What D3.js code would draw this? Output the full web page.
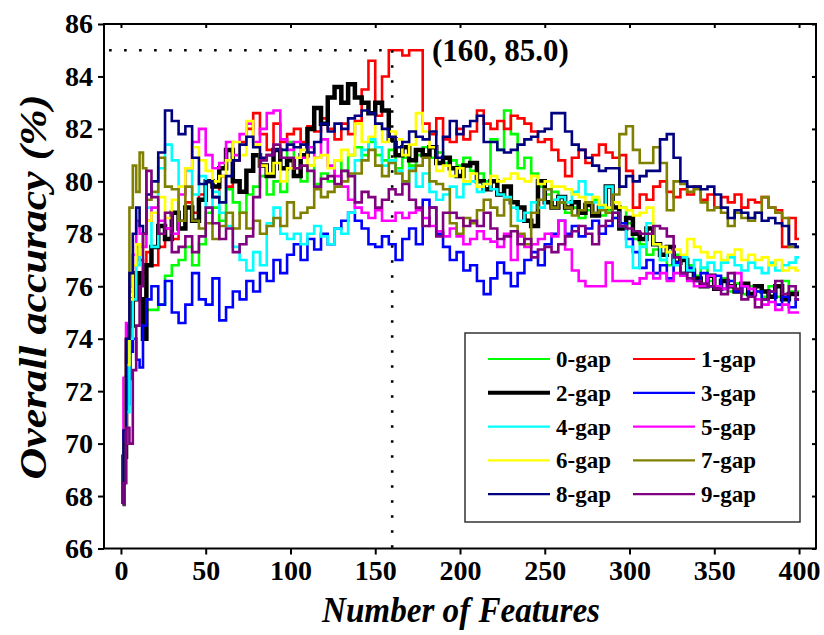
<!DOCTYPE html>
<html>
<head>
<meta charset="utf-8">
<script src="https://cdn.jsdelivr.net/npm/d3@7"></script>
<style>
body { margin: 0; background: #fff; }
svg text { font-family: "Liberation Serif", "Times New Roman", serif; font-weight: bold; fill: #000; }
</style>
</head>
<body>
<div id="chart"></div>
<script>
// number of features at which each accuracy value was read
var features = [1, 2, 4, 6, 8, 10, 12, 14, 16,
    20, 24, 28, 32, 36, 40, 44, 48, 52, 56,
    60, 64, 68, 72, 76, 80, 84, 88, 92, 96,
    100, 104, 108, 112, 116, 120, 124, 128, 132, 136,
    140, 144, 148, 152, 156, 160, 164, 168, 172, 176,
    180, 184, 188, 192, 196, 200, 204, 208, 212, 216,
    220, 224, 228, 232, 236, 240, 244, 248, 252, 256,
    260, 264, 268, 272, 276, 280, 284, 288, 292, 296,
    300, 304, 308, 312, 316, 320, 324, 328, 332, 336,
    340, 344, 348, 352, 356, 360, 364, 368, 372, 376,
    380, 384, 388, 392, 396, 400];

var gap0 = [67.7, 70.0, 73.5, 75.8, 76.5, 75.8, 75.5, 75.2, 75.1,
    75.1, 75.3, 76.4, 76.8, 77.0, 77.5, 76.8, 77.6, 78.8, 79.0,
    78.5, 79.7, 79.2, 78.8, 79.5, 79.8, 80.2, 79.5, 80.0, 79.6,
    81.5, 80.5, 80.0, 80.6, 79.9, 80.3, 80.0, 80.8, 80.4, 81.0,
    81.3, 81.0, 81.5, 81.0, 80.8, 81.2, 80.5, 80.9, 80.6, 81.0,
    81.3, 80.9, 81.1, 80.7, 80.8, 80.6, 80.9, 80.4, 80.3, 80.0,
    81.6, 81.2, 82.7, 81.8, 80.5, 80.9, 80.3, 79.8, 79.5, 79.6,
    79.2, 78.8, 79.0, 78.6, 78.9, 79.3, 78.7, 78.9, 78.6, 79.0,
    78.4, 77.8, 77.6, 77.2, 77.4, 77.0, 76.8, 77.2, 76.5, 76.8,
    76.4, 76.7, 76.2, 76.0, 76.3, 75.8, 76.1, 75.7, 76.0, 75.8,
    75.6, 76.0, 75.6, 76.2, 75.8, 75.8];

var gap1 = [67.7, 70.5, 74.0, 76.0, 76.8, 77.5, 77.0, 76.5, 77.3,
    76.8, 77.5, 78.2, 77.8, 78.5, 79.2, 78.8, 79.5, 80.0, 79.4,
    80.2, 79.8, 80.8, 81.5, 82.0, 82.6, 81.8, 81.2, 82.2, 81.5,
    81.8, 82.0, 81.5, 82.1, 81.9, 82.4, 82.0, 81.6, 82.2, 81.8,
    82.3, 83.5, 84.6, 82.5, 84.0, 85.0, 85.0, 84.8, 85.0, 85.0,
    82.2, 81.8, 82.4, 81.6, 81.5, 82.0, 81.6, 81.9, 82.7, 82.2,
    82.0, 82.3, 82.0, 82.5, 82.4, 82.2, 81.9, 81.5, 81.6, 81.2,
    80.8, 80.2, 80.9, 81.2, 80.7, 81.0, 81.4, 81.1, 80.9, 81.0,
    80.4, 79.0, 79.5, 79.3, 79.8, 80.0, 79.6, 79.4, 79.7, 79.5,
    79.8, 79.3, 79.5, 79.0, 79.4, 79.2, 79.5, 79.0, 79.3, 79.2,
    79.4, 79.0, 78.9, 77.5, 78.6, 77.8];

var gap2 = [67.7, 69.5, 72.5, 74.5, 75.5, 76.5, 75.5, 74.0, 76.8,
    77.5, 78.3, 77.8, 78.8, 78.2, 79.0, 78.5, 79.3, 80.0, 79.8,
    80.5, 81.2, 80.0, 79.6, 80.4, 81.0, 80.6, 80.2, 81.2, 80.5,
    80.8, 80.2, 81.0, 82.0, 82.8, 82.2, 83.2, 83.6, 83.0, 83.7,
    83.2, 83.0, 82.6, 83.0, 82.7, 81.6, 81.0, 81.3, 80.8, 81.2,
    81.0, 81.3, 80.7, 80.9, 80.5, 80.2, 80.6, 80.7, 80.0, 79.7,
    80.0, 79.5, 79.8, 79.2, 79.0, 78.5, 78.3, 80.0, 79.2, 79.0,
    79.4, 79.0, 79.2, 78.8, 79.1, 78.7, 79.0, 79.8, 79.0, 78.2,
    78.6, 78.0, 77.8, 78.2, 77.6, 77.2, 77.5, 76.9, 77.0, 76.6,
    76.3, 76.0, 76.4, 75.9, 76.2, 76.0, 75.8, 76.1, 75.7, 76.0,
    75.8, 75.6, 76.0, 75.5, 75.7, 75.7];

var gap3 = [67.7, 68.5, 71.5, 73.5, 74.0, 73.2, 72.9, 74.5, 75.5,
    76.0, 75.3, 76.2, 75.0, 74.6, 75.3, 76.5, 75.5, 75.3, 76.3,
    74.7, 75.2, 75.8, 75.5, 76.2, 75.8, 76.5, 76.2, 77.0, 76.5,
    77.2, 77.6, 77.0, 77.8, 77.4, 78.0, 77.6, 78.2, 78.5, 78.8,
    78.5, 78.2, 77.6, 77.5, 77.9, 77.6, 77.0, 77.8, 78.2, 77.6,
    79.3, 79.0, 78.0, 77.5, 77.0, 77.3, 76.6, 76.8, 76.2, 75.7,
    76.3, 76.9, 76.5, 76.0, 76.5, 77.0, 77.3, 76.8, 77.6, 78.0,
    78.5, 78.0, 78.3, 77.9, 78.2, 78.5, 78.0, 78.3, 78.6, 78.4,
    77.8, 77.3, 76.7, 77.0, 76.5, 76.8, 76.3, 76.9, 76.5, 76.7,
    76.2, 76.5, 76.0, 76.4, 75.9, 76.2, 75.8, 76.0, 75.6, 75.8,
    75.5, 75.8, 75.3, 75.6, 75.2, 75.5];

var gap4 = [67.7, 70.5, 71.2, 74.0, 75.5, 76.8, 77.5, 78.0, 79.0,
    77.5, 80.5, 81.4, 80.8, 79.8, 80.4, 79.5, 80.2, 79.0, 79.6,
    78.8, 78.3, 77.5, 77.0, 76.6, 77.3, 76.8, 78.4, 79.0, 78.0,
    77.8, 78.0, 77.6, 78.0, 78.3, 77.9, 77.6, 78.2, 78.0, 78.8,
    80.8, 81.2, 81.6, 81.3, 80.6, 80.8, 80.4, 80.0, 80.5, 79.8,
    80.3, 79.6, 79.3, 79.5, 79.8, 79.4, 79.9, 80.0, 79.6, 79.9,
    79.7, 79.5, 79.4, 79.0, 78.5, 78.8, 79.2, 79.0, 79.7, 79.3,
    79.4, 79.2, 79.6, 80.0, 79.5, 79.2, 79.0, 79.8, 78.8, 78.3,
    77.5, 76.7, 77.5, 78.4, 77.6, 77.0, 77.3, 76.8, 77.1, 76.6,
    77.0, 76.7, 76.9, 76.6, 76.9, 77.1, 76.8, 76.6, 76.9, 76.7,
    76.5, 76.9, 76.6, 76.8, 76.9, 77.1];

var gap5 = [67.7, 72.5, 74.6, 76.0, 77.2, 78.5, 78.0, 77.5, 78.5,
    79.0, 78.5, 78.2, 78.0, 79.5, 80.5, 81.5, 82.0, 81.0, 80.5,
    80.7, 81.5, 81.0, 81.8, 82.2, 81.5, 82.0, 82.6, 82.7, 81.6,
    81.2, 81.5, 80.9, 81.3, 80.9, 81.6, 80.6, 80.2, 79.8, 79.3,
    79.0, 78.8, 78.6, 78.9, 78.5, 78.5, 78.8, 78.6, 78.8, 78.9,
    78.6, 78.3, 78.1, 77.9, 78.2, 77.9, 77.6, 77.8, 78.1, 77.8,
    77.7, 77.5, 78.0, 77.0, 77.9, 77.5, 77.6, 77.8, 78.0, 77.9,
    78.5, 77.4, 76.6, 76.2, 76.0, 76.0, 76.0, 76.9, 76.2, 76.2,
    76.2, 76.1, 76.3, 76.5, 76.3, 76.5, 76.2, 76.5, 76.4, 76.2,
    76.0, 76.0, 76.4, 76.0, 75.9, 76.0, 76.5, 76.0, 75.9, 75.5,
    75.3, 75.4, 75.1, 75.3, 75.0, 75.0];

var gap6 = [67.7, 70.0, 73.0, 75.5, 76.8, 77.6, 77.2, 78.0, 78.5,
    78.8, 79.4, 78.6, 79.3, 79.8, 80.5, 81.3, 80.8, 80.4, 80.0,
    80.2, 80.8, 81.5, 81.0, 82.3, 81.4, 80.6, 80.3, 80.7, 80.0,
    80.5, 80.9, 81.2, 80.6, 80.9, 81.0, 80.5, 80.8, 81.2, 81.0,
    82.2, 81.5, 81.7, 82.2, 81.5, 81.9, 81.6, 81.0, 81.4, 82.6,
    81.9, 81.3, 80.4, 80.6, 80.2, 80.5, 80.0, 80.3, 79.8, 79.9,
    80.2, 80.0, 80.1, 80.3, 80.1, 80.0, 80.2, 79.9, 80.0, 79.8,
    79.8, 79.7, 79.5, 79.4, 79.2, 79.4, 79.1, 79.0, 79.2, 79.0,
    78.9, 78.7, 78.8, 79.0, 77.6, 77.5, 77.3, 77.4, 77.2, 77.8,
    77.5, 77.3, 77.1, 77.3, 77.0, 77.2, 77.4, 77.0, 77.2, 77.0,
    77.1, 76.8, 77.0, 76.6, 76.7, 76.6];

var gap7 = [67.7, 70.0, 74.0, 79.0, 80.6, 79.6, 81.1, 80.5, 79.3,
    79.6, 80.9, 79.8, 79.7, 78.5, 79.8, 78.5, 78.2, 78.4, 77.8,
    78.3, 78.8, 78.2, 78.8, 78.2, 78.5, 78.0, 78.3, 78.6, 78.3,
    79.2, 78.6, 78.8, 79.0, 79.7, 79.4, 79.6, 79.8, 80.0, 80.3,
    80.3, 80.8, 81.2, 80.6, 80.2, 80.7, 80.3, 80.0, 80.4, 80.6,
    80.9, 80.0, 79.9, 79.7, 78.4, 78.0, 78.6, 78.4, 78.9, 79.3,
    79.0, 78.7, 79.3, 78.3, 78.0, 77.6, 78.8, 79.3, 79.7, 79.0,
    79.2, 79.0, 78.7, 78.9, 79.2, 78.8, 78.9, 78.8, 79.5, 81.8,
    82.1, 81.2, 80.7, 80.7, 81.3, 80.7, 78.9, 80.0, 79.9, 79.6,
    79.7, 79.2, 78.9, 79.0, 78.8, 78.3, 78.8, 78.6, 78.5, 78.8,
    79.4, 79.0, 78.8, 78.6, 77.5, 77.5];

var gap8 = [67.7, 70.5, 74.0, 76.5, 78.0, 79.0, 78.3, 78.0, 79.5,
    80.0, 81.1, 82.7, 82.3, 81.8, 82.1, 80.9, 79.9, 80.0, 79.4,
    79.2, 80.2, 80.8, 81.4, 81.7, 81.3, 80.9, 81.0, 81.2, 81.2,
    81.4, 81.3, 81.4, 81.1, 81.5, 82.2, 81.9, 82.2, 82.0, 82.4,
    82.5, 82.7, 82.6, 82.2, 82.0, 81.7, 81.3, 81.5, 81.9, 81.7,
    81.6, 81.9, 80.9, 81.7, 82.3, 81.8, 82.1, 82.3, 82.5, 81.5,
    81.5, 81.2, 81.1, 81.2, 81.4, 81.6, 81.7, 81.9, 82.0, 82.6,
    82.6, 81.9, 81.4, 81.2, 80.9, 80.6, 80.4, 80.5, 80.5, 79.8,
    80.2, 80.0, 80.2, 80.4, 80.4, 81.6, 81.8, 80.9, 80.0, 79.8,
    79.8, 79.7, 79.8, 79.5, 79.0, 78.6, 78.9, 78.8, 78.6, 78.8,
    78.5, 78.6, 78.4, 78.3, 77.6, 77.5];

var gap9 = [67.7, 68.5, 70.6, 70.0, 72.8, 74.5, 76.0, 78.0, 80.4,
    79.4, 78.0, 78.8, 77.3, 77.5, 77.9, 77.3, 77.9, 79.0, 78.4,
    77.8, 78.2, 77.3, 77.6, 77.9, 79.4, 80.8, 81.0, 81.4, 80.9,
    80.9, 80.5, 80.6, 80.4, 79.8, 80.1, 80.2, 79.9, 80.4, 80.2,
    79.2, 79.6, 79.4, 79.0, 79.3, 79.7, 79.5, 79.9, 79.3, 79.0,
    78.3, 79.0, 77.9, 78.8, 78.8, 78.6, 78.3, 78.5, 78.3, 78.8,
    78.2, 77.8, 77.9, 78.1, 77.6, 77.8, 77.1, 77.4, 77.5, 77.3,
    77.6, 77.9, 78.1, 78.3, 78.0, 77.6, 78.3, 78.5, 78.8, 78.3,
    78.2, 78.1, 78.0, 78.0, 78.3, 78.2, 77.9, 77.1, 76.5, 76.3,
    76.2, 76.1, 76.0, 75.9, 75.7, 76.5, 75.9, 75.5, 75.6, 75.2,
    75.5, 75.8, 76.2, 75.7, 76.0, 75.5];

var seriesNames = ["0-gap", "1-gap", "2-gap", "3-gap", "4-gap", "5-gap", "6-gap", "7-gap", "8-gap", "9-gap"];
var seriesValues = [gap0, gap1, gap2, gap3, gap4, gap5, gap6, gap7, gap8, gap9];
var seriesColors = ["#00ff00", "#ff0000", "#000000", "#0000ff", "#00ffff",
    "#ff00ff", "#ffff00", "#808000", "#000080", "#800080"];

var xTicks = [0, 50, 100, 150, 200, 250, 300, 350, 400];
var yTicks = [66, 68, 70, 72, 74, 76, 78, 80, 82, 84, 86];

var peakFeature = 160, peakValue = 85.0;

var width = 824, height = 635;
var svg = d3.select("#chart").append("svg")
    .attr("width", width)
    .attr("height", height);

var x = d3.scaleLinear().domain([-10, 410]).range([104, 816]);
var y = d3.scaleLinear().domain([66, 86]).range([548.5, 24]);

// axes
var gy = svg.append("g")
    .attr("transform", "translate(104,0)")
    .call(d3.axisLeft(y).tickValues(yTicks).tickSize(6).tickPadding(5).tickFormat(d3.format("d")));
var gx = svg.append("g")
    .attr("transform", "translate(0,548.5)")
    .call(d3.axisBottom(x).tickValues(xTicks).tickSize(6).tickPadding(6).tickFormat(d3.format("d")));
// mirror ticks, pointing inward
svg.append("g").attr("transform", "translate(0,24)")
    .call(d3.axisTop(x).tickValues(xTicks).tickSize(-4).tickFormat(""));
svg.append("g").attr("transform", "translate(816,0)")
    .call(d3.axisRight(y).tickValues(yTicks).tickSize(-4).tickFormat(""));

svg.selectAll(".domain").remove();
svg.selectAll(".tick line").attr("stroke", "#000").attr("stroke-width", 2);
gy.selectAll("text").style("font-size", "28px");
gx.selectAll("text").style("font-size", "28px");

// series
var line = d3.line()
    .x(function (d) { return x(d[0]); })
    .y(function (d) { return y(d[1]); })
    .curve(d3.curveStep);

var plot = svg.append("g");
seriesValues.forEach(function (vals, i) {
    var pts = features.map(function (f, j) { return [f, vals[j]]; });
    plot.append("path")
        .datum(pts)
        .attr("fill", "none")
        .attr("stroke", seriesColors[i])
        .attr("stroke-width", i == 2 ? 4.5 : 2.6)
        .attr("d", line);
});

// peak marker
svg.append("line")
    .attr("x1", x(-7)).attr("x2", x(peakFeature))
    .attr("y1", y(peakValue)).attr("y2", y(peakValue))
    .attr("stroke", "#000").attr("stroke-width", 2.6)
    .attr("stroke-dasharray", "2.6 12.4");
svg.append("line")
    .attr("x1", x(peakFeature)).attr("x2", x(peakFeature))
    .attr("y1", y(peakValue)).attr("y2", y(66))
    .attr("stroke", "#000").attr("stroke-width", 2.6)
    .attr("stroke-dasharray", "2.6 12.4");
svg.append("text")
    .attr("x", 432).attr("y", y(peakValue) + 11)
    .style("font-size", "31px")
    .text("(" + peakFeature + ", " + peakValue.toFixed(1) + ")");

// frame
svg.append("rect")
    .attr("x", 104).attr("y", 24)
    .attr("width", 712).attr("height", 524.5)
    .attr("fill", "none").attr("stroke", "#000").attr("stroke-width", 2);

// legend
var legend = svg.append("g");
legend.append("rect")
    .attr("x", 465).attr("y", 333).attr("width", 335).attr("height", 189)
    .attr("fill", "#fff").attr("stroke", "#333").attr("stroke-width", 1.5);
seriesNames.forEach(function (name, i) {
    var col = i % 2, row = Math.floor(i / 2);
    var lx = col == 0 ? 488 : 633;
    var ly = 359 + row * 33.8;
    legend.append("line")
        .attr("x1", lx).attr("x2", lx + 62)
        .attr("y1", ly).attr("y2", ly)
        .attr("stroke", seriesColors[i])
        .attr("stroke-width", i == 2 ? 4 : 2.2);
    legend.append("text")
        .attr("x", lx + 68).attr("y", ly)
        .attr("dy", "0.35em")
        .style("font-size", "23px")
        .text(name);
});

// titles
svg.append("text")
    .attr("x", 461).attr("y", 622)
    .attr("text-anchor", "middle")
    .style("font-size", "35px").style("font-style", "italic")
    .attr("textLength", 278).attr("lengthAdjust", "spacingAndGlyphs")
    .text("Number of Features");
svg.append("text")
    .attr("transform", "translate(46,287) rotate(-90)")
    .attr("text-anchor", "middle")
    .style("font-size", "38px").style("font-style", "italic")
    .attr("textLength", 385).attr("lengthAdjust", "spacingAndGlyphs")
    .text("Overall accuracy (%)");
</script>
</body>
</html>
